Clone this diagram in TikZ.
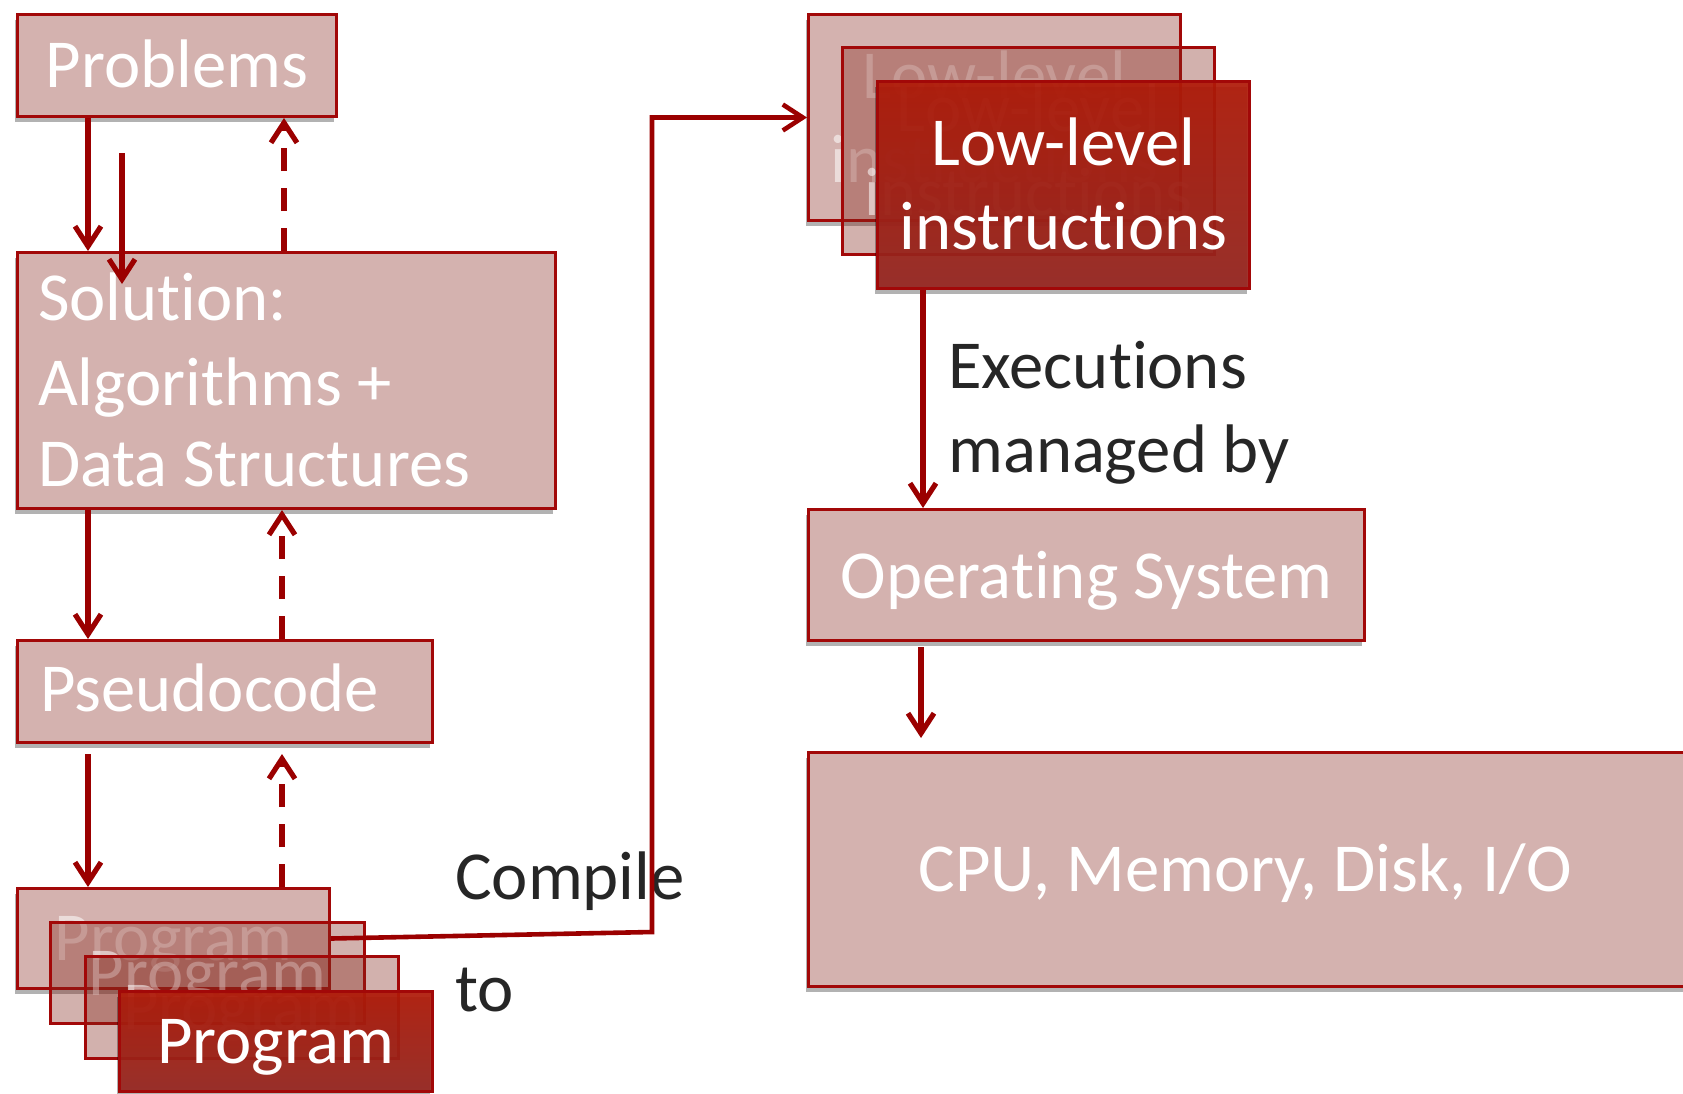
\documentclass[tikz,border=0pt]{standalone}
\usepackage{fontspec}
\setmainfont[Ligatures=NoCommon]{Carlito}
\usetikzlibrary{arrows.meta,shadows}
\definecolor{boxpink}{RGB}{212,178,175}
\definecolor{boxline}{RGB}{162,8,8}
\definecolor{arrred}{RGB}{155,0,0}
\definecolor{stackfill}{RGB}{133,39,28}
\definecolor{frontTop}{RGB}{176,26,8}
\definecolor{frontBot}{RGB}{150,38,32}
\definecolor{darktext}{RGB}{38,38,38}
\tikzset{
  boxbase/.style={rectangle, draw=boxline, line width=3pt, inner sep=0pt, anchor=north west},
  pinkbox/.style={boxbase, fill=boxpink, drop shadow={shadow xshift=-3pt, shadow yshift=-5pt, opacity=0.3, fill=black}},
  stackbox/.style={boxbase, fill=stackfill, fill opacity=0.36},
  frontbox/.style={boxbase, top color=frontTop, bottom color=frontBot, fill opacity=0.93, drop shadow={shadow xshift=-3pt, shadow yshift=-5pt, opacity=0.3, fill=black}},
  lbl/.style={font=\fontsize{68.7}{82}\selectfont, text=white, inner sep=0pt},
  faint/.style={lbl, text opacity=0.55},
  dlbl/.style={font=\fontsize{68.7}{82}\selectfont, text=darktext, inner sep=0pt, anchor=base west},
  arr/.style={draw=arrred, line width=5.2pt, -{Straight Barb[length=20pt, width=26pt]}},
  darr/.style={arr, dash pattern=on 23pt off 17pt},
  cline/.style={draw=arrred, line width=4.6pt, -{Straight Barb[length=20pt, width=26pt]}}
}
\begin{document}
\begin{tikzpicture}[x=1pt, y=-1pt]
\useasboundingbox (0,0) rectangle (1683,1093);
\fill[white] (0,0) rectangle (1683,1093);

% left column
\node[pinkbox, minimum width=319pt, minimum height=102pt] (prob) at (16,13) {};
\node[lbl, anchor=base] (probt) at ([yshift=-22pt]prob.center) {Problems};

\node[pinkbox, minimum width=538pt, minimum height=256pt] (sol) at (16,251) {};
\node[lbl, anchor=base west] (sol1) at (38,320) {Solution:};
\node[lbl, anchor=base west] (sol2) at (38,405) {Algorithms +};
\node[lbl, anchor=base west] (sol3) at (38,486) {Data Structures};

\node[pinkbox, minimum width=415pt, minimum height=102pt] (pseudo) at (16,639) {};
\node[lbl, anchor=base west] (pseudot) at (40,711) {Pseudocode};

% program stack
\node[pinkbox, minimum width=312pt, minimum height=100pt] (prog1) at (16,887) {};
\node[faint, anchor=base] (prog1t) at ([yshift=-22pt]prog1.center) {Program};
\node[stackbox, minimum width=314pt, minimum height=101pt] (prog2) at (49,921) {};
\node[faint, anchor=base] (prog2t) at ([yshift=-22pt]prog2.center) {Program};
\node[stackbox, minimum width=313pt, minimum height=102pt] (prog3) at (84,955) {};
\node[faint, anchor=base] (prog3t) at ([yshift=-22pt]prog3.center) {Program};
\node[frontbox, minimum width=313pt, minimum height=100pt] (prog4) at (118,990) {};
\node[lbl, anchor=base] (prog4t) at ([yshift=-22pt]prog4.center) {Program};

% low-level stack
\node[pinkbox, minimum width=372pt, minimum height=206pt] (low1) at (807,13) {};
\node[faint, anchor=base] (low1a) at ([yshift=19.5pt]low1.center) {Low-level};
\node[faint, anchor=base] (low1b) at ([yshift=-64.5pt]low1.center) {instructions};
\node[stackbox, minimum width=372pt, minimum height=207pt] (low2) at (841,46) {};
\node[faint, anchor=base] (low2a) at ([yshift=19.5pt]low2.center) {Low-level};
\node[faint, anchor=base] (low2b) at ([yshift=-64.5pt]low2.center) {instructions};
\node[frontbox, minimum width=372pt, minimum height=207pt] (low3) at (876,80) {};
\node[lbl, anchor=base] (low3a) at ([yshift=19.5pt]low3.center) {Low-level};
\node[lbl, anchor=base] (low3b) at ([yshift=-64.5pt]low3.center) {instructions};

% right column
\node[pinkbox, minimum width=556pt, minimum height=131pt] (os) at (807,508) {};
\node[lbl, anchor=base] (ost) at ([yshift=-23pt]os.center) {Operating System};

\node[pinkbox, minimum width=950pt, minimum height=234pt] (cpu) at (807,751) {};
\node[lbl, anchor=base] (cput) at (1245,891) {CPU, Memory, Disk, I/O};

% free labels
\node[dlbl] (exec1) at (948,388) {Executions};
\node[dlbl] (exec2) at (948,472) {managed by};
\node[dlbl] (comp1) at (455,899) {Compile};
\node[dlbl] (comp2) at (455,1011) {to};

% connectors
\draw[arr] ([xshift=72pt]prob.south west) -- ([xshift=72pt]sol.north west);
\draw[arr] ([xshift=106pt,yshift=-35pt]prob.south west) -- ([xshift=106pt,yshift=-33pt]sol.north west);
\draw[darr] ([xshift=268pt]sol.north west) -- ([xshift=268pt]prob.south west);

\draw[arr] ([xshift=72pt]sol.south west) -- ([xshift=72pt]pseudo.north west);
\draw[darr] ([xshift=266pt]pseudo.north west) -- ([xshift=266pt]sol.south west);

\draw[arr] ([xshift=72pt,yshift=-10pt]pseudo.south west) -- ([xshift=72pt]prog1.north west);
\draw[darr] ([xshift=266pt]prog1.north west) -- ([xshift=266pt,yshift=-10pt]pseudo.south west);

\coordinate (bend) at (652,932);
\draw[cline] (prog1.east) -- (bend) |- (low1.west);

\draw[arr] ([xshift=47pt]low3.south west) -- ([xshift=116pt]os.north west);
\draw[arr] ([xshift=114pt,yshift=-5pt]os.south west) -- ([xshift=114pt,yshift=13pt]cpu.north west);
\end{tikzpicture}
\end{document}
